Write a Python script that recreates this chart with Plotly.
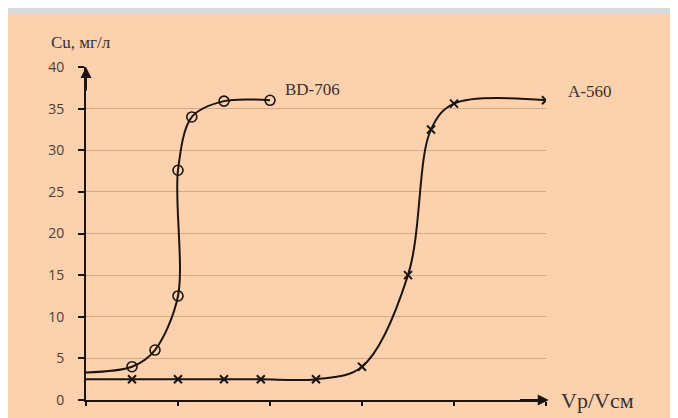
import plotly.graph_objects as go

# ---- data ----
bd_x = [0, 50, 75, 100, 100, 115, 150, 200]
bd_y = [3.3, 4.0, 6.0, 12.5, 27.6, 34.0, 35.9, 36.0]
bd_marker_from = 1  # first point is the curve start (no marker)

a_x = [0, 50, 100, 150, 190, 250, 300, 350, 375, 400, 500]
a_y = [2.5, 2.5, 2.5, 2.5, 2.5, 2.5, 4.0, 15.0, 32.5, 35.6, 36.0]
a_marker_from = 1

y_ticks = [0, 5, 10, 15, 20, 25, 30, 35, 40]
x_ticks = [0, 100, 200, 300, 400, 500]

series_labels = ["BD-706", "A-560"]
y_title = "Cu, мг/л"
x_title = "Vp/Vсм"

BG = "#FCD1AD"
GRID = "#D4AA86"
INK = "#1c1410"
TXT = "#3a3030"
SERIF = "Liberation Serif, Times New Roman, serif"
SANS = "Open Sans, Noto Sans, sans-serif"

W, H = 670, 410
L, R, T, B = 78, 132, 59, 18
PW, PH = W - L - R, H - T - B

fig = go.Figure()

# curves
fig.add_trace(go.Scatter(x=bd_x, y=bd_y, mode="lines",
                         line=dict(color=INK, width=2, shape="spline", smoothing=0.9),
                         hoverinfo="skip", showlegend=False))
fig.add_trace(go.Scatter(x=a_x, y=a_y, mode="lines",
                         line=dict(color=INK, width=2, shape="spline", smoothing=1.0),
                         hoverinfo="skip", showlegend=False))
# markers
fig.add_trace(go.Scatter(x=bd_x[bd_marker_from:], y=bd_y[bd_marker_from:], mode="markers",
                         marker=dict(symbol="circle-open", size=10, color=INK,
                                     line=dict(width=1.6, color=INK)),
                         name=series_labels[0], showlegend=False))
fig.add_trace(go.Scatter(x=a_x[a_marker_from:], y=a_y[a_marker_from:], mode="markers",
                         marker=dict(symbol="x-thin-open", size=8, color=INK,
                                     line=dict(width=2, color=INK)),
                         name=series_labels[1], showlegend=False))

fig.update_layout(
    width=W, height=H,
    margin=dict(l=L, r=R, t=T, b=B, autoexpand=False),
    paper_bgcolor=BG, plot_bgcolor=BG,
    xaxis=dict(range=[0, 500], tickvals=x_ticks, ticktext=[str(v) for v in x_ticks],
               showgrid=False, zeroline=False,
               showline=True, linecolor=INK, linewidth=2,
               ticks="outside", ticklen=4, tickwidth=2, tickcolor=INK,
               ticklabelstandoff=12,
               tickfont=dict(family=SANS, size=14, color="#454040")),
    yaxis=dict(range=[0, 40], tickvals=y_ticks, ticktext=[str(v) for v in y_ticks],
               showgrid=True, gridcolor=GRID, gridwidth=1.2, zeroline=False,
               showline=True, linecolor=INK, linewidth=2,
               ticks="outside", ticklen=6, tickwidth=1.5, tickcolor=INK,
               ticklabelstandoff=11,
               tickfont=dict(family=SANS, size=14, color="#454040")),
    shapes=[
        dict(type="rect", xref="paper", yref="paper", layer="below",
             x0=-1, x1=2, y0=1 + (T - 6) / PH, y1=1 + T / PH + 0.1,
             fillcolor="#D9D9D9", line=dict(width=0)),
    ],
    annotations=[
        # axis arrows
        dict(x=0, y=40, ax=0, ay=37, xref="x", yref="y", axref="x", ayref="y",
             text="", showarrow=True, arrowhead=2, arrowsize=1.1, arrowwidth=2, arrowcolor=INK),
        dict(x=503, y=0, ax=470, ay=0, xref="x", yref="y", axref="x", ayref="y",
             text="", showarrow=True, arrowhead=2, arrowsize=1.1, arrowwidth=2, arrowcolor=INK),
        # labels
        dict(x=(283 - 86) / 460, y=37.3, xref="paper", yref="y", text=series_labels[0],
             showarrow=False, xanchor="left", yanchor="middle",
             font=dict(family=SERIF, size=17, color=TXT)),
        dict(x=(566 - 86) / 460, y=37.0, xref="paper", yref="y", text=series_labels[1],
             showarrow=False, xanchor="left", yanchor="middle",
             font=dict(family=SERIF, size=17, color=TXT)),
        dict(x=(559 - 86) / 460, y=0, xref="paper", yref="y", text=x_title,
             showarrow=False, xanchor="left", yanchor="middle",
             font=dict(family=SERIF, size=22, color=TXT)),
        dict(x=(49 - 86) / 460, y=(400 - 42) / PH, xref="paper", yref="paper", text=y_title,
             showarrow=False, xanchor="left", yanchor="middle",
             font=dict(family=SERIF, size=17, color=TXT)),
    ],
)

fig.write_html("out.html")
